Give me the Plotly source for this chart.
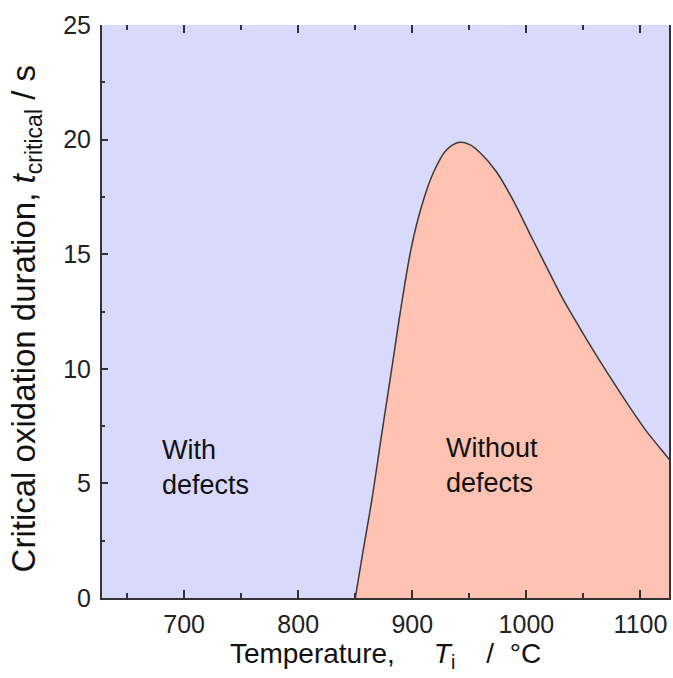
import plotly.graph_objects as go

# Boundary curve (critical oxidation duration vs temperature)
temperature = [850, 857, 864.6, 873, 881.8, 890.5, 899.3, 908, 918.2, 929.9, 941.6, 950.3, 959,
               973.7, 988.2, 1002.8, 1017.5, 1032, 1046.6, 1061.2, 1075.8, 1090.4, 1105, 1122.5, 1126]
t_critical = [0, 2.1, 4.3, 7.1, 9.95, 12.8, 15.33, 17.07, 18.53, 19.55, 19.88, 19.78, 19.45,
              18.6, 17.37, 15.91, 14.46, 13.05, 11.8, 10.6, 9.45, 8.34, 7.29, 6.22, 6.0]

x_ticks = [700, 800, 900, 1000, 1100]
y_ticks = [0, 5, 10, 15, 20, 25]
x_range = [628, 1125]
y_range = [0, 25]

region_labels = ["With<br>defects", "Without<br>defects"]
region_x = [679, 928]
region_y = [5.7, 5.8]

FONT = "Liberation Sans, Arial, sans-serif"
DARK = "#333333"
NB = "&nbsp;"

fig = go.Figure()
fig.add_trace(go.Scatter(
    x=temperature, y=t_critical, mode="lines",
    line=dict(color="#3a3a3a", width=1.5, shape="spline", smoothing=1.0),
    fill="tozeroy", fillcolor="#fdc2b2", showlegend=False, hoverinfo="skip",
))

for txt, xx, yy in zip(region_labels, region_x, region_y):
    fig.add_annotation(x=xx, y=yy, text=txt, showarrow=False, xanchor="left", yanchor="middle",
                       align="left", font=dict(family=FONT, size=27, color="#111111"))

x_title = "Temperature," + NB * 5 + "<i>T</i><sub>i</sub>" + NB * 4 + "/" + NB * 2 + "°C"
y_title = "Critical oxidation duration, <i>t</i><sub>critical</sub> / s"

# y-axis title as a rotated annotation for precise placement
fig.add_annotation(xref="paper", yref="paper", x=-0.134, y=0.488, text=y_title, textangle=-90,
                   showarrow=False, xanchor="center", yanchor="middle",
                   font=dict(family=FONT, size=33, color="#111111"))

fig.update_layout(
    width=673, height=678,
    margin=dict(l=102, r=4, t=25, b=80),
    paper_bgcolor="white", plot_bgcolor="#d9d9fb",
    font=dict(family=FONT, color="#222222"),
    xaxis=dict(
        range=x_range, tickvals=x_ticks, ticks="inside", ticklen=8, tickwidth=1.5, tickcolor=DARK,
        showline=True, linecolor=DARK, linewidth=2, mirror=False, showgrid=False, zeroline=False,
        automargin=False,
        tickfont=dict(size=25, family=FONT, color="#222222"), ticklabelstandoff=3,
        minor=dict(dtick=50, tick0=650, ticks="inside", ticklen=5, tickcolor=DARK, tickwidth=1.5),
        title=dict(text=x_title, font=dict(size=28, family=FONT, color="#111111"), standoff=4),
    ),
    xaxis2=dict(
        range=x_range, overlaying="x", side="top", tickvals=x_ticks, ticks="inside", ticklen=8,
        tickwidth=1.5, tickcolor=DARK, showticklabels=False, showline=False, showgrid=False, zeroline=False,
        automargin=False,
        minor=dict(dtick=50, tick0=650, ticks="inside", ticklen=5, tickcolor=DARK, tickwidth=1.5),
    ),
    yaxis=dict(
        range=y_range, tickvals=y_ticks, ticks="inside", ticklen=6, tickwidth=1.5, tickcolor=DARK,
        showline=True, linecolor=DARK, linewidth=2, mirror=True, showgrid=False, zeroline=False,
        automargin=False,
        tickfont=dict(size=25, family=FONT, color="#222222"), ticklabelstandoff=4,
        minor=dict(dtick=2.5, ticks="inside", ticklen=3, tickcolor=DARK, tickwidth=1.5),
    ),
)
# empty trace to activate top axis ticks
fig.add_trace(go.Scatter(x=[None], y=[None], xaxis="x2", showlegend=False, hoverinfo="skip"))

fig.write_html("out.html", config={"displayModeBar": False},
               post_script="document.body.style.margin='0px';document.body.style.overflow='hidden';")
